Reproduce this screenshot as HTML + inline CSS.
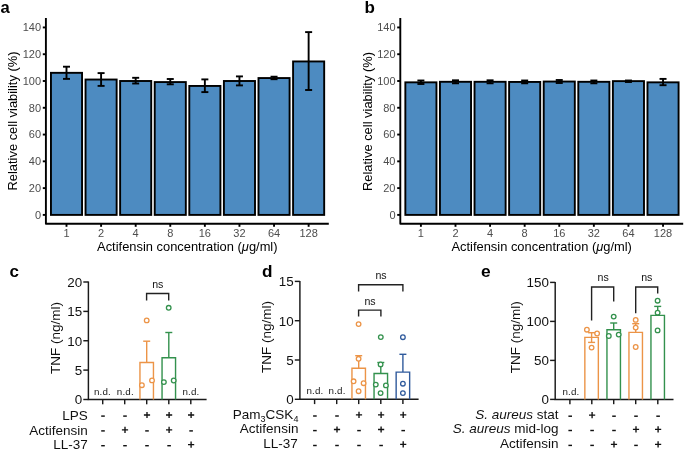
<!DOCTYPE html>
<html><head><meta charset="utf-8"><style>
html,body{margin:0;padding:0;background:#fff;}
svg{display:block;font-family:"Liberation Sans", sans-serif;will-change:transform;}
</style></head><body>
<svg width="685" height="452" viewBox="0 0 685 452">
<rect width="685" height="452" fill="#fff"/>
<rect x="50.95" y="72.83" width="31.10" height="142.07" fill="#4d8bc1" stroke="#000" stroke-width="1.9"/>
<line x1="66.50" y1="66.70" x2="66.50" y2="78.90" stroke="#000" stroke-width="1.9" stroke-linecap="butt"/>
<line x1="63.00" y1="66.70" x2="70.00" y2="66.70" stroke="#000" stroke-width="1.9" stroke-linecap="butt"/>
<line x1="63.00" y1="78.90" x2="70.00" y2="78.90" stroke="#000" stroke-width="1.9" stroke-linecap="butt"/>
<line x1="66.50" y1="223.70" x2="66.50" y2="226.80" stroke="#000" stroke-width="1.9" stroke-linecap="butt"/>
<text x="66.50" y="237.20" font-size="11" fill="#4d4d4d" text-anchor="middle" font-weight="normal" >1</text>
<rect x="85.54" y="79.53" width="31.10" height="135.37" fill="#4d8bc1" stroke="#000" stroke-width="1.9"/>
<line x1="101.09" y1="73.10" x2="101.09" y2="85.90" stroke="#000" stroke-width="1.9" stroke-linecap="butt"/>
<line x1="97.59" y1="73.10" x2="104.59" y2="73.10" stroke="#000" stroke-width="1.9" stroke-linecap="butt"/>
<line x1="97.59" y1="85.90" x2="104.59" y2="85.90" stroke="#000" stroke-width="1.9" stroke-linecap="butt"/>
<line x1="101.09" y1="223.70" x2="101.09" y2="226.80" stroke="#000" stroke-width="1.9" stroke-linecap="butt"/>
<text x="101.09" y="237.20" font-size="11" fill="#4d4d4d" text-anchor="middle" font-weight="normal" >2</text>
<rect x="120.13" y="81.00" width="31.10" height="133.90" fill="#4d8bc1" stroke="#000" stroke-width="1.9"/>
<line x1="135.68" y1="77.80" x2="135.68" y2="83.50" stroke="#000" stroke-width="1.9" stroke-linecap="butt"/>
<line x1="132.18" y1="77.80" x2="139.18" y2="77.80" stroke="#000" stroke-width="1.9" stroke-linecap="butt"/>
<line x1="132.18" y1="83.50" x2="139.18" y2="83.50" stroke="#000" stroke-width="1.9" stroke-linecap="butt"/>
<line x1="135.68" y1="223.70" x2="135.68" y2="226.80" stroke="#000" stroke-width="1.9" stroke-linecap="butt"/>
<text x="135.68" y="237.20" font-size="11" fill="#4d4d4d" text-anchor="middle" font-weight="normal" >4</text>
<rect x="154.72" y="82.07" width="31.10" height="132.83" fill="#4d8bc1" stroke="#000" stroke-width="1.9"/>
<line x1="170.27" y1="79.00" x2="170.27" y2="84.30" stroke="#000" stroke-width="1.9" stroke-linecap="butt"/>
<line x1="166.77" y1="79.00" x2="173.77" y2="79.00" stroke="#000" stroke-width="1.9" stroke-linecap="butt"/>
<line x1="166.77" y1="84.30" x2="173.77" y2="84.30" stroke="#000" stroke-width="1.9" stroke-linecap="butt"/>
<line x1="170.27" y1="223.70" x2="170.27" y2="226.80" stroke="#000" stroke-width="1.9" stroke-linecap="butt"/>
<text x="170.27" y="237.20" font-size="11" fill="#4d4d4d" text-anchor="middle" font-weight="normal" >8</text>
<rect x="189.31" y="85.95" width="31.10" height="128.95" fill="#4d8bc1" stroke="#000" stroke-width="1.9"/>
<line x1="204.86" y1="79.40" x2="204.86" y2="92.10" stroke="#000" stroke-width="1.9" stroke-linecap="butt"/>
<line x1="201.36" y1="79.40" x2="208.36" y2="79.40" stroke="#000" stroke-width="1.9" stroke-linecap="butt"/>
<line x1="201.36" y1="92.10" x2="208.36" y2="92.10" stroke="#000" stroke-width="1.9" stroke-linecap="butt"/>
<line x1="204.86" y1="223.70" x2="204.86" y2="226.80" stroke="#000" stroke-width="1.9" stroke-linecap="butt"/>
<text x="204.86" y="237.20" font-size="11" fill="#4d4d4d" text-anchor="middle" font-weight="normal" >16</text>
<rect x="223.90" y="81.00" width="31.10" height="133.90" fill="#4d8bc1" stroke="#000" stroke-width="1.9"/>
<line x1="239.45" y1="76.40" x2="239.45" y2="85.40" stroke="#000" stroke-width="1.9" stroke-linecap="butt"/>
<line x1="235.95" y1="76.40" x2="242.95" y2="76.40" stroke="#000" stroke-width="1.9" stroke-linecap="butt"/>
<line x1="235.95" y1="85.40" x2="242.95" y2="85.40" stroke="#000" stroke-width="1.9" stroke-linecap="butt"/>
<line x1="239.45" y1="223.70" x2="239.45" y2="226.80" stroke="#000" stroke-width="1.9" stroke-linecap="butt"/>
<text x="239.45" y="237.20" font-size="11" fill="#4d4d4d" text-anchor="middle" font-weight="normal" >32</text>
<rect x="258.49" y="78.05" width="31.10" height="136.85" fill="#4d8bc1" stroke="#000" stroke-width="1.9"/>
<line x1="274.04" y1="76.70" x2="274.04" y2="79.20" stroke="#000" stroke-width="1.9" stroke-linecap="butt"/>
<line x1="270.54" y1="76.70" x2="277.54" y2="76.70" stroke="#000" stroke-width="1.9" stroke-linecap="butt"/>
<line x1="270.54" y1="79.20" x2="277.54" y2="79.20" stroke="#000" stroke-width="1.9" stroke-linecap="butt"/>
<line x1="274.04" y1="223.70" x2="274.04" y2="226.80" stroke="#000" stroke-width="1.9" stroke-linecap="butt"/>
<text x="274.04" y="237.20" font-size="11" fill="#4d4d4d" text-anchor="middle" font-weight="normal" >64</text>
<rect x="293.08" y="61.45" width="31.10" height="153.45" fill="#4d8bc1" stroke="#000" stroke-width="1.9"/>
<line x1="308.63" y1="32.10" x2="308.63" y2="90.00" stroke="#000" stroke-width="1.9" stroke-linecap="butt"/>
<line x1="305.13" y1="32.10" x2="312.13" y2="32.10" stroke="#000" stroke-width="1.9" stroke-linecap="butt"/>
<line x1="305.13" y1="90.00" x2="312.13" y2="90.00" stroke="#000" stroke-width="1.9" stroke-linecap="butt"/>
<line x1="308.63" y1="223.70" x2="308.63" y2="226.80" stroke="#000" stroke-width="1.9" stroke-linecap="butt"/>
<text x="308.63" y="237.20" font-size="11" fill="#4d4d4d" text-anchor="middle" font-weight="normal" >128</text>
<path d="M45.90 18 V223.70 H328.80" fill="none" stroke="#000" stroke-width="1.9" stroke-linejoin="round"/>
<line x1="42.80" y1="214.90" x2="45.90" y2="214.90" stroke="#000" stroke-width="1.9" stroke-linecap="butt"/>
<text x="41.10" y="218.80" font-size="11" fill="#4d4d4d" text-anchor="end" font-weight="normal" >0</text>
<line x1="42.80" y1="188.12" x2="45.90" y2="188.12" stroke="#000" stroke-width="1.9" stroke-linecap="butt"/>
<text x="41.10" y="192.02" font-size="11" fill="#4d4d4d" text-anchor="end" font-weight="normal" >20</text>
<line x1="42.80" y1="161.34" x2="45.90" y2="161.34" stroke="#000" stroke-width="1.9" stroke-linecap="butt"/>
<text x="41.10" y="165.24" font-size="11" fill="#4d4d4d" text-anchor="end" font-weight="normal" >40</text>
<line x1="42.80" y1="134.56" x2="45.90" y2="134.56" stroke="#000" stroke-width="1.9" stroke-linecap="butt"/>
<text x="41.10" y="138.46" font-size="11" fill="#4d4d4d" text-anchor="end" font-weight="normal" >60</text>
<line x1="42.80" y1="107.78" x2="45.90" y2="107.78" stroke="#000" stroke-width="1.9" stroke-linecap="butt"/>
<text x="41.10" y="111.68" font-size="11" fill="#4d4d4d" text-anchor="end" font-weight="normal" >80</text>
<line x1="42.80" y1="81.00" x2="45.90" y2="81.00" stroke="#000" stroke-width="1.9" stroke-linecap="butt"/>
<text x="41.10" y="84.90" font-size="11" fill="#4d4d4d" text-anchor="end" font-weight="normal" >100</text>
<line x1="42.80" y1="54.22" x2="45.90" y2="54.22" stroke="#000" stroke-width="1.9" stroke-linecap="butt"/>
<text x="41.10" y="58.12" font-size="11" fill="#4d4d4d" text-anchor="end" font-weight="normal" >120</text>
<line x1="42.80" y1="27.44" x2="45.90" y2="27.44" stroke="#000" stroke-width="1.9" stroke-linecap="butt"/>
<text x="41.10" y="31.34" font-size="11" fill="#4d4d4d" text-anchor="end" font-weight="normal" >140</text>
<text x="187.30" y="250.80" font-size="12.9" fill="#000" text-anchor="middle" font-weight="normal" >Actifensin concentration (<tspan font-style="italic">μ</tspan>g/ml)</text>
<text x="0.00" y="0.00" font-size="12.9" fill="#000" text-anchor="middle" font-weight="normal" transform="translate(17.00,121) rotate(-90)">Relative cell viability (%)</text>
<rect x="405.35" y="82.34" width="31.10" height="132.56" fill="#4d8bc1" stroke="#000" stroke-width="1.9"/>
<line x1="420.90" y1="80.50" x2="420.90" y2="84.00" stroke="#000" stroke-width="1.9" stroke-linecap="butt"/>
<line x1="417.40" y1="80.50" x2="424.40" y2="80.50" stroke="#000" stroke-width="1.9" stroke-linecap="butt"/>
<line x1="417.40" y1="84.00" x2="424.40" y2="84.00" stroke="#000" stroke-width="1.9" stroke-linecap="butt"/>
<line x1="420.90" y1="223.70" x2="420.90" y2="226.80" stroke="#000" stroke-width="1.9" stroke-linecap="butt"/>
<text x="420.90" y="237.20" font-size="11" fill="#4d4d4d" text-anchor="middle" font-weight="normal" >1</text>
<rect x="439.94" y="81.80" width="31.10" height="133.10" fill="#4d8bc1" stroke="#000" stroke-width="1.9"/>
<line x1="455.49" y1="80.30" x2="455.49" y2="83.30" stroke="#000" stroke-width="1.9" stroke-linecap="butt"/>
<line x1="451.99" y1="80.30" x2="458.99" y2="80.30" stroke="#000" stroke-width="1.9" stroke-linecap="butt"/>
<line x1="451.99" y1="83.30" x2="458.99" y2="83.30" stroke="#000" stroke-width="1.9" stroke-linecap="butt"/>
<line x1="455.49" y1="223.70" x2="455.49" y2="226.80" stroke="#000" stroke-width="1.9" stroke-linecap="butt"/>
<text x="455.49" y="237.20" font-size="11" fill="#4d4d4d" text-anchor="middle" font-weight="normal" >2</text>
<rect x="474.53" y="81.80" width="31.10" height="133.10" fill="#4d8bc1" stroke="#000" stroke-width="1.9"/>
<line x1="490.08" y1="80.30" x2="490.08" y2="83.30" stroke="#000" stroke-width="1.9" stroke-linecap="butt"/>
<line x1="486.58" y1="80.30" x2="493.58" y2="80.30" stroke="#000" stroke-width="1.9" stroke-linecap="butt"/>
<line x1="486.58" y1="83.30" x2="493.58" y2="83.30" stroke="#000" stroke-width="1.9" stroke-linecap="butt"/>
<line x1="490.08" y1="223.70" x2="490.08" y2="226.80" stroke="#000" stroke-width="1.9" stroke-linecap="butt"/>
<text x="490.08" y="237.20" font-size="11" fill="#4d4d4d" text-anchor="middle" font-weight="normal" >4</text>
<rect x="509.12" y="81.94" width="31.10" height="132.96" fill="#4d8bc1" stroke="#000" stroke-width="1.9"/>
<line x1="524.67" y1="80.50" x2="524.67" y2="83.30" stroke="#000" stroke-width="1.9" stroke-linecap="butt"/>
<line x1="521.17" y1="80.50" x2="528.17" y2="80.50" stroke="#000" stroke-width="1.9" stroke-linecap="butt"/>
<line x1="521.17" y1="83.30" x2="528.17" y2="83.30" stroke="#000" stroke-width="1.9" stroke-linecap="butt"/>
<line x1="524.67" y1="223.70" x2="524.67" y2="226.80" stroke="#000" stroke-width="1.9" stroke-linecap="butt"/>
<text x="524.67" y="237.20" font-size="11" fill="#4d4d4d" text-anchor="middle" font-weight="normal" >8</text>
<rect x="543.71" y="81.54" width="31.10" height="133.36" fill="#4d8bc1" stroke="#000" stroke-width="1.9"/>
<line x1="559.26" y1="80.00" x2="559.26" y2="83.00" stroke="#000" stroke-width="1.9" stroke-linecap="butt"/>
<line x1="555.76" y1="80.00" x2="562.76" y2="80.00" stroke="#000" stroke-width="1.9" stroke-linecap="butt"/>
<line x1="555.76" y1="83.00" x2="562.76" y2="83.00" stroke="#000" stroke-width="1.9" stroke-linecap="butt"/>
<line x1="559.26" y1="223.70" x2="559.26" y2="226.80" stroke="#000" stroke-width="1.9" stroke-linecap="butt"/>
<text x="559.26" y="237.20" font-size="11" fill="#4d4d4d" text-anchor="middle" font-weight="normal" >16</text>
<rect x="578.30" y="81.80" width="31.10" height="133.10" fill="#4d8bc1" stroke="#000" stroke-width="1.9"/>
<line x1="593.85" y1="80.50" x2="593.85" y2="83.30" stroke="#000" stroke-width="1.9" stroke-linecap="butt"/>
<line x1="590.35" y1="80.50" x2="597.35" y2="80.50" stroke="#000" stroke-width="1.9" stroke-linecap="butt"/>
<line x1="590.35" y1="83.30" x2="597.35" y2="83.30" stroke="#000" stroke-width="1.9" stroke-linecap="butt"/>
<line x1="593.85" y1="223.70" x2="593.85" y2="226.80" stroke="#000" stroke-width="1.9" stroke-linecap="butt"/>
<text x="593.85" y="237.20" font-size="11" fill="#4d4d4d" text-anchor="middle" font-weight="normal" >32</text>
<rect x="612.89" y="81.13" width="31.10" height="133.77" fill="#4d8bc1" stroke="#000" stroke-width="1.9"/>
<line x1="628.44" y1="80.50" x2="628.44" y2="82.00" stroke="#000" stroke-width="1.9" stroke-linecap="butt"/>
<line x1="624.94" y1="80.50" x2="631.94" y2="80.50" stroke="#000" stroke-width="1.9" stroke-linecap="butt"/>
<line x1="624.94" y1="82.00" x2="631.94" y2="82.00" stroke="#000" stroke-width="1.9" stroke-linecap="butt"/>
<line x1="628.44" y1="223.70" x2="628.44" y2="226.80" stroke="#000" stroke-width="1.9" stroke-linecap="butt"/>
<text x="628.44" y="237.20" font-size="11" fill="#4d4d4d" text-anchor="middle" font-weight="normal" >64</text>
<rect x="647.48" y="82.34" width="31.10" height="132.56" fill="#4d8bc1" stroke="#000" stroke-width="1.9"/>
<line x1="663.03" y1="78.90" x2="663.03" y2="85.20" stroke="#000" stroke-width="1.9" stroke-linecap="butt"/>
<line x1="659.53" y1="78.90" x2="666.53" y2="78.90" stroke="#000" stroke-width="1.9" stroke-linecap="butt"/>
<line x1="659.53" y1="85.20" x2="666.53" y2="85.20" stroke="#000" stroke-width="1.9" stroke-linecap="butt"/>
<line x1="663.03" y1="223.70" x2="663.03" y2="226.80" stroke="#000" stroke-width="1.9" stroke-linecap="butt"/>
<text x="663.03" y="237.20" font-size="11" fill="#4d4d4d" text-anchor="middle" font-weight="normal" >128</text>
<path d="M400.30 18 V223.70 H683.20" fill="none" stroke="#000" stroke-width="1.9" stroke-linejoin="round"/>
<line x1="397.20" y1="214.90" x2="400.30" y2="214.90" stroke="#000" stroke-width="1.9" stroke-linecap="butt"/>
<text x="395.50" y="218.80" font-size="11" fill="#4d4d4d" text-anchor="end" font-weight="normal" >0</text>
<line x1="397.20" y1="188.12" x2="400.30" y2="188.12" stroke="#000" stroke-width="1.9" stroke-linecap="butt"/>
<text x="395.50" y="192.02" font-size="11" fill="#4d4d4d" text-anchor="end" font-weight="normal" >20</text>
<line x1="397.20" y1="161.34" x2="400.30" y2="161.34" stroke="#000" stroke-width="1.9" stroke-linecap="butt"/>
<text x="395.50" y="165.24" font-size="11" fill="#4d4d4d" text-anchor="end" font-weight="normal" >40</text>
<line x1="397.20" y1="134.56" x2="400.30" y2="134.56" stroke="#000" stroke-width="1.9" stroke-linecap="butt"/>
<text x="395.50" y="138.46" font-size="11" fill="#4d4d4d" text-anchor="end" font-weight="normal" >60</text>
<line x1="397.20" y1="107.78" x2="400.30" y2="107.78" stroke="#000" stroke-width="1.9" stroke-linecap="butt"/>
<text x="395.50" y="111.68" font-size="11" fill="#4d4d4d" text-anchor="end" font-weight="normal" >80</text>
<line x1="397.20" y1="81.00" x2="400.30" y2="81.00" stroke="#000" stroke-width="1.9" stroke-linecap="butt"/>
<text x="395.50" y="84.90" font-size="11" fill="#4d4d4d" text-anchor="end" font-weight="normal" >100</text>
<line x1="397.20" y1="54.22" x2="400.30" y2="54.22" stroke="#000" stroke-width="1.9" stroke-linecap="butt"/>
<text x="395.50" y="58.12" font-size="11" fill="#4d4d4d" text-anchor="end" font-weight="normal" >120</text>
<line x1="397.20" y1="27.44" x2="400.30" y2="27.44" stroke="#000" stroke-width="1.9" stroke-linecap="butt"/>
<text x="395.50" y="31.34" font-size="11" fill="#4d4d4d" text-anchor="end" font-weight="normal" >140</text>
<text x="541.70" y="250.80" font-size="12.9" fill="#000" text-anchor="middle" font-weight="normal" >Actifensin concentration (<tspan font-style="italic">μ</tspan>g/ml)</text>
<text x="0.00" y="0.00" font-size="12.9" fill="#000" text-anchor="middle" font-weight="normal" transform="translate(372.30,121.5) rotate(-90)">Relative cell viability (%)</text>
<text x="0.40" y="12.70" font-size="16.6" fill="#000" text-anchor="start" font-weight="bold" >a</text>
<text x="364.40" y="12.60" font-size="17" fill="#000" text-anchor="start" font-weight="bold" >b</text>
<path d="M88.40 281.60 V399.50 H206.60" fill="none" stroke="#1a1a1a" stroke-width="1.45"/>
<line x1="83.30" y1="282.00" x2="88.40" y2="282.00" stroke="#1a1a1a" stroke-width="1.45" stroke-linecap="butt"/>
<text x="82.10" y="286.80" font-size="13.4" fill="#111" text-anchor="end" font-weight="normal" >20</text>
<line x1="83.30" y1="311.40" x2="88.40" y2="311.40" stroke="#1a1a1a" stroke-width="1.45" stroke-linecap="butt"/>
<text x="82.10" y="316.20" font-size="13.4" fill="#111" text-anchor="end" font-weight="normal" >15</text>
<line x1="83.30" y1="340.75" x2="88.40" y2="340.75" stroke="#1a1a1a" stroke-width="1.45" stroke-linecap="butt"/>
<text x="82.10" y="345.55" font-size="13.4" fill="#111" text-anchor="end" font-weight="normal" >10</text>
<line x1="83.30" y1="370.10" x2="88.40" y2="370.10" stroke="#1a1a1a" stroke-width="1.45" stroke-linecap="butt"/>
<text x="82.10" y="374.90" font-size="13.4" fill="#111" text-anchor="end" font-weight="normal" >5</text>
<line x1="83.30" y1="399.50" x2="88.40" y2="399.50" stroke="#1a1a1a" stroke-width="1.45" stroke-linecap="butt"/>
<text x="82.10" y="404.30" font-size="13.4" fill="#111" text-anchor="end" font-weight="normal" >0</text>
<line x1="102.70" y1="399.50" x2="102.70" y2="404.30" stroke="#1a1a1a" stroke-width="1.45" stroke-linecap="butt"/>
<line x1="124.70" y1="399.50" x2="124.70" y2="404.30" stroke="#1a1a1a" stroke-width="1.45" stroke-linecap="butt"/>
<line x1="146.70" y1="399.50" x2="146.70" y2="404.30" stroke="#1a1a1a" stroke-width="1.45" stroke-linecap="butt"/>
<line x1="168.80" y1="399.50" x2="168.80" y2="404.30" stroke="#1a1a1a" stroke-width="1.45" stroke-linecap="butt"/>
<line x1="190.80" y1="399.50" x2="190.80" y2="404.30" stroke="#1a1a1a" stroke-width="1.45" stroke-linecap="butt"/>
<text x="102.40" y="395.00" font-size="9.8" fill="#1a1a1a" text-anchor="middle" font-weight="normal" letter-spacing="0.15">n.d.</text>
<text x="125.30" y="395.00" font-size="9.8" fill="#1a1a1a" text-anchor="middle" font-weight="normal" letter-spacing="0.15">n.d.</text>
<text x="190.90" y="395.00" font-size="9.8" fill="#1a1a1a" text-anchor="middle" font-weight="normal" letter-spacing="0.15">n.d.</text>
<path d="M139.95 399.50 V362.50 H153.45 V399.50" fill="none" stroke="#ec9447" stroke-width="1.4"/>
<line x1="146.70" y1="362.50" x2="146.70" y2="341.20" stroke="#ec9447" stroke-width="1.4" stroke-linecap="butt"/>
<line x1="143.20" y1="341.20" x2="150.20" y2="341.20" stroke="#ec9447" stroke-width="1.4" stroke-linecap="butt"/>
<circle cx="146.70" cy="320.40" r="2.3" fill="#fff" stroke="#ec9447" stroke-width="1.3"/>
<circle cx="141.90" cy="385.20" r="2.3" fill="#fff" stroke="#ec9447" stroke-width="1.3"/>
<circle cx="152.00" cy="380.40" r="2.3" fill="#fff" stroke="#ec9447" stroke-width="1.3"/>
<path d="M162.05 399.50 V357.70 H175.55 V399.50" fill="none" stroke="#33914d" stroke-width="1.4"/>
<line x1="168.80" y1="357.70" x2="168.80" y2="332.50" stroke="#33914d" stroke-width="1.4" stroke-linecap="butt"/>
<line x1="165.30" y1="332.50" x2="172.30" y2="332.50" stroke="#33914d" stroke-width="1.4" stroke-linecap="butt"/>
<circle cx="168.70" cy="307.80" r="2.3" fill="#fff" stroke="#33914d" stroke-width="1.3"/>
<circle cx="163.90" cy="382.10" r="2.3" fill="#fff" stroke="#33914d" stroke-width="1.3"/>
<circle cx="173.70" cy="380.50" r="2.3" fill="#fff" stroke="#33914d" stroke-width="1.3"/>
<path d="M146.60 300.40 V293.50 H168.70 V300.40" fill="none" stroke="#222" stroke-width="1.4"/>
<text x="157.80" y="287.80" font-size="10.6" fill="#111" text-anchor="middle" font-weight="normal" >ns</text>
<text x="0.00" y="0.00" font-size="13.5" fill="#111" text-anchor="middle" font-weight="normal" transform="translate(60.2,338) rotate(-90)">TNF (ng/ml)</text>
<text x="9.50" y="277.40" font-size="17" fill="#000" text-anchor="start" font-weight="bold" >c</text>
<text x="87.80" y="419.90" font-size="13.5" fill="#111" text-anchor="end" font-weight="normal" >LPS</text>
<text x="87.80" y="434.50" font-size="13.5" fill="#111" text-anchor="end" font-weight="normal" >Actifensin</text>
<text x="87.80" y="449.40" font-size="13.5" fill="#111" text-anchor="end" font-weight="normal" >LL-37</text>
<path d="M101.20 416.10 H104.80" stroke="#111" stroke-width="1.45" fill="none"/>
<path d="M123.20 416.10 H126.80" stroke="#111" stroke-width="1.45" fill="none"/>
<path d="M143.90 415.00 H150.10 M147.00 411.90 V418.10" stroke="#111" stroke-width="1.35" fill="none"/>
<path d="M166.00 415.00 H172.20 M169.10 411.90 V418.10" stroke="#111" stroke-width="1.35" fill="none"/>
<path d="M188.00 415.00 H194.20 M191.10 411.90 V418.10" stroke="#111" stroke-width="1.35" fill="none"/>
<path d="M101.20 430.90 H104.80" stroke="#111" stroke-width="1.45" fill="none"/>
<path d="M121.90 429.80 H128.10 M125.00 426.70 V432.90" stroke="#111" stroke-width="1.35" fill="none"/>
<path d="M145.20 430.90 H148.80" stroke="#111" stroke-width="1.45" fill="none"/>
<path d="M166.00 429.80 H172.20 M169.10 426.70 V432.90" stroke="#111" stroke-width="1.35" fill="none"/>
<path d="M189.30 430.90 H192.90" stroke="#111" stroke-width="1.45" fill="none"/>
<path d="M101.20 445.70 H104.80" stroke="#111" stroke-width="1.45" fill="none"/>
<path d="M123.20 445.70 H126.80" stroke="#111" stroke-width="1.45" fill="none"/>
<path d="M145.20 445.70 H148.80" stroke="#111" stroke-width="1.45" fill="none"/>
<path d="M167.30 445.70 H170.90" stroke="#111" stroke-width="1.45" fill="none"/>
<path d="M188.00 444.60 H194.20 M191.10 441.50 V447.70" stroke="#111" stroke-width="1.35" fill="none"/>
<path d="M299.90 281.00 V399.30 H418.60" fill="none" stroke="#1a1a1a" stroke-width="1.45"/>
<line x1="294.80" y1="281.40" x2="299.90" y2="281.40" stroke="#1a1a1a" stroke-width="1.45" stroke-linecap="butt"/>
<text x="293.60" y="286.20" font-size="13.4" fill="#111" text-anchor="end" font-weight="normal" >15</text>
<line x1="294.80" y1="320.70" x2="299.90" y2="320.70" stroke="#1a1a1a" stroke-width="1.45" stroke-linecap="butt"/>
<text x="293.60" y="325.50" font-size="13.4" fill="#111" text-anchor="end" font-weight="normal" >10</text>
<line x1="294.80" y1="360.00" x2="299.90" y2="360.00" stroke="#1a1a1a" stroke-width="1.45" stroke-linecap="butt"/>
<text x="293.60" y="364.80" font-size="13.4" fill="#111" text-anchor="end" font-weight="normal" >5</text>
<line x1="294.80" y1="399.30" x2="299.90" y2="399.30" stroke="#1a1a1a" stroke-width="1.45" stroke-linecap="butt"/>
<text x="293.60" y="404.10" font-size="13.4" fill="#111" text-anchor="end" font-weight="normal" >0</text>
<line x1="314.60" y1="399.30" x2="314.60" y2="404.10" stroke="#1a1a1a" stroke-width="1.45" stroke-linecap="butt"/>
<line x1="336.70" y1="399.30" x2="336.70" y2="404.10" stroke="#1a1a1a" stroke-width="1.45" stroke-linecap="butt"/>
<line x1="358.70" y1="399.30" x2="358.70" y2="404.10" stroke="#1a1a1a" stroke-width="1.45" stroke-linecap="butt"/>
<line x1="380.80" y1="399.30" x2="380.80" y2="404.10" stroke="#1a1a1a" stroke-width="1.45" stroke-linecap="butt"/>
<line x1="402.90" y1="399.30" x2="402.90" y2="404.10" stroke="#1a1a1a" stroke-width="1.45" stroke-linecap="butt"/>
<text x="315.00" y="394.20" font-size="9.8" fill="#1a1a1a" text-anchor="middle" font-weight="normal" letter-spacing="0.15">n.d.</text>
<text x="337.10" y="394.20" font-size="9.8" fill="#1a1a1a" text-anchor="middle" font-weight="normal" letter-spacing="0.15">n.d.</text>
<path d="M351.95 399.30 V368.30 H365.45 V399.30" fill="none" stroke="#ec9447" stroke-width="1.4"/>
<line x1="358.70" y1="368.30" x2="358.70" y2="355.70" stroke="#ec9447" stroke-width="1.4" stroke-linecap="butt"/>
<line x1="355.20" y1="355.70" x2="362.20" y2="355.70" stroke="#ec9447" stroke-width="1.4" stroke-linecap="butt"/>
<circle cx="358.60" cy="324.10" r="2.3" fill="#fff" stroke="#ec9447" stroke-width="1.3"/>
<circle cx="358.60" cy="358.80" r="2.3" fill="#fff" stroke="#ec9447" stroke-width="1.3"/>
<circle cx="353.60" cy="381.30" r="2.3" fill="#fff" stroke="#ec9447" stroke-width="1.3"/>
<circle cx="363.60" cy="383.20" r="2.3" fill="#fff" stroke="#ec9447" stroke-width="1.3"/>
<circle cx="358.60" cy="391.20" r="2.3" fill="#fff" stroke="#ec9447" stroke-width="1.3"/>
<path d="M374.05 399.30 V373.50 H387.55 V399.30" fill="none" stroke="#33914d" stroke-width="1.4"/>
<line x1="380.80" y1="373.50" x2="380.80" y2="362.50" stroke="#33914d" stroke-width="1.4" stroke-linecap="butt"/>
<line x1="377.30" y1="362.50" x2="384.30" y2="362.50" stroke="#33914d" stroke-width="1.4" stroke-linecap="butt"/>
<circle cx="380.80" cy="337.10" r="2.3" fill="#fff" stroke="#33914d" stroke-width="1.3"/>
<circle cx="380.60" cy="364.40" r="2.3" fill="#fff" stroke="#33914d" stroke-width="1.3"/>
<circle cx="375.80" cy="384.60" r="2.3" fill="#fff" stroke="#33914d" stroke-width="1.3"/>
<circle cx="385.90" cy="385.40" r="2.3" fill="#fff" stroke="#33914d" stroke-width="1.3"/>
<circle cx="380.60" cy="393.10" r="2.3" fill="#fff" stroke="#33914d" stroke-width="1.3"/>
<path d="M396.15 399.30 V372.10 H409.65 V399.30" fill="none" stroke="#2f5a9c" stroke-width="1.4"/>
<line x1="402.90" y1="372.10" x2="402.90" y2="354.30" stroke="#2f5a9c" stroke-width="1.4" stroke-linecap="butt"/>
<line x1="399.40" y1="354.30" x2="406.40" y2="354.30" stroke="#2f5a9c" stroke-width="1.4" stroke-linecap="butt"/>
<circle cx="402.90" cy="337.20" r="2.3" fill="#fff" stroke="#2f5a9c" stroke-width="1.3"/>
<circle cx="402.90" cy="383.70" r="2.3" fill="#fff" stroke="#2f5a9c" stroke-width="1.3"/>
<circle cx="402.90" cy="393.10" r="2.3" fill="#fff" stroke="#2f5a9c" stroke-width="1.3"/>
<path d="M358.60 291.50 V284.80 H402.90 V291.50" fill="none" stroke="#222" stroke-width="1.4"/>
<text x="381.00" y="279.00" font-size="10.6" fill="#111" text-anchor="middle" font-weight="normal" >ns</text>
<path d="M358.60 316.60 V310.10 H380.90 V316.60" fill="none" stroke="#222" stroke-width="1.4"/>
<text x="370.00" y="304.60" font-size="10.6" fill="#111" text-anchor="middle" font-weight="normal" >ns</text>
<text x="0.00" y="0.00" font-size="13.5" fill="#111" text-anchor="middle" font-weight="normal" transform="translate(271,337) rotate(-90)">TNF (ng/ml)</text>
<text x="261.90" y="277.20" font-size="17.2" fill="#000" text-anchor="start" font-weight="bold" >d</text>
<text x="298.40" y="418.60" font-size="13.5" fill="#111" text-anchor="end" font-weight="normal" >Pam<tspan font-size="9" dy="3">3</tspan><tspan dy="-3">CSK</tspan><tspan font-size="9" dy="3">4</tspan></text>
<text x="298.40" y="433.20" font-size="13.5" fill="#111" text-anchor="end" font-weight="normal" >Actifensin</text>
<text x="297.80" y="447.80" font-size="13.5" fill="#111" text-anchor="end" font-weight="normal" >LL-37</text>
<path d="M313.10 416.00 H316.70" stroke="#111" stroke-width="1.45" fill="none"/>
<path d="M335.20 416.00 H338.80" stroke="#111" stroke-width="1.45" fill="none"/>
<path d="M355.90 414.90 H362.10 M359.00 411.80 V418.00" stroke="#111" stroke-width="1.35" fill="none"/>
<path d="M378.00 414.90 H384.20 M381.10 411.80 V418.00" stroke="#111" stroke-width="1.35" fill="none"/>
<path d="M400.10 414.90 H406.30 M403.20 411.80 V418.00" stroke="#111" stroke-width="1.35" fill="none"/>
<path d="M313.10 430.60 H316.70" stroke="#111" stroke-width="1.45" fill="none"/>
<path d="M333.90 429.50 H340.10 M337.00 426.40 V432.60" stroke="#111" stroke-width="1.35" fill="none"/>
<path d="M357.20 430.60 H360.80" stroke="#111" stroke-width="1.45" fill="none"/>
<path d="M378.00 429.50 H384.20 M381.10 426.40 V432.60" stroke="#111" stroke-width="1.35" fill="none"/>
<path d="M401.40 430.60 H405.00" stroke="#111" stroke-width="1.45" fill="none"/>
<path d="M313.10 445.50 H316.70" stroke="#111" stroke-width="1.45" fill="none"/>
<path d="M335.20 445.50 H338.80" stroke="#111" stroke-width="1.45" fill="none"/>
<path d="M357.20 445.50 H360.80" stroke="#111" stroke-width="1.45" fill="none"/>
<path d="M379.30 445.50 H382.90" stroke="#111" stroke-width="1.45" fill="none"/>
<path d="M400.10 444.40 H406.30 M403.20 441.30 V447.50" stroke="#111" stroke-width="1.35" fill="none"/>
<path d="M555.20 282.00 V399.40 H673.50" fill="none" stroke="#1a1a1a" stroke-width="1.45"/>
<line x1="550.10" y1="282.40" x2="555.20" y2="282.40" stroke="#1a1a1a" stroke-width="1.45" stroke-linecap="butt"/>
<text x="548.90" y="287.20" font-size="13.4" fill="#111" text-anchor="end" font-weight="normal" >150</text>
<line x1="550.10" y1="321.40" x2="555.20" y2="321.40" stroke="#1a1a1a" stroke-width="1.45" stroke-linecap="butt"/>
<text x="548.90" y="326.20" font-size="13.4" fill="#111" text-anchor="end" font-weight="normal" >100</text>
<line x1="550.10" y1="360.40" x2="555.20" y2="360.40" stroke="#1a1a1a" stroke-width="1.45" stroke-linecap="butt"/>
<text x="548.90" y="365.20" font-size="13.4" fill="#111" text-anchor="end" font-weight="normal" >50</text>
<line x1="550.10" y1="399.40" x2="555.20" y2="399.40" stroke="#1a1a1a" stroke-width="1.45" stroke-linecap="butt"/>
<text x="548.90" y="404.20" font-size="13.4" fill="#111" text-anchor="end" font-weight="normal" >0</text>
<line x1="569.90" y1="399.40" x2="569.90" y2="404.20" stroke="#1a1a1a" stroke-width="1.45" stroke-linecap="butt"/>
<line x1="591.80" y1="399.40" x2="591.80" y2="404.20" stroke="#1a1a1a" stroke-width="1.45" stroke-linecap="butt"/>
<line x1="613.70" y1="399.40" x2="613.70" y2="404.20" stroke="#1a1a1a" stroke-width="1.45" stroke-linecap="butt"/>
<line x1="635.70" y1="399.40" x2="635.70" y2="404.20" stroke="#1a1a1a" stroke-width="1.45" stroke-linecap="butt"/>
<line x1="657.80" y1="399.40" x2="657.80" y2="404.20" stroke="#1a1a1a" stroke-width="1.45" stroke-linecap="butt"/>
<text x="570.90" y="395.00" font-size="9.8" fill="#1a1a1a" text-anchor="middle" font-weight="normal" letter-spacing="0.15">n.d.</text>
<path d="M584.85 399.40 V337.40 H598.35 V399.40" fill="none" stroke="#ec9447" stroke-width="1.4"/>
<line x1="591.60" y1="337.40" x2="591.60" y2="332.70" stroke="#ec9447" stroke-width="1.4" stroke-linecap="butt"/>
<line x1="588.10" y1="332.70" x2="595.10" y2="332.70" stroke="#ec9447" stroke-width="1.4" stroke-linecap="butt"/>
<line x1="591.60" y1="337.40" x2="591.60" y2="342.40" stroke="#ec9447" stroke-width="1.4" stroke-linecap="butt"/>
<line x1="588.10" y1="342.40" x2="595.10" y2="342.40" stroke="#ec9447" stroke-width="1.4" stroke-linecap="butt"/>
<circle cx="586.90" cy="329.70" r="2.3" fill="#fff" stroke="#ec9447" stroke-width="1.3"/>
<circle cx="597.10" cy="333.50" r="2.3" fill="#fff" stroke="#ec9447" stroke-width="1.3"/>
<circle cx="591.60" cy="347.60" r="2.3" fill="#fff" stroke="#ec9447" stroke-width="1.3"/>
<path d="M606.95 399.40 V329.70 H620.45 V399.40" fill="none" stroke="#33914d" stroke-width="1.4"/>
<line x1="613.70" y1="329.70" x2="613.70" y2="323.00" stroke="#33914d" stroke-width="1.4" stroke-linecap="butt"/>
<line x1="610.20" y1="323.00" x2="617.20" y2="323.00" stroke="#33914d" stroke-width="1.4" stroke-linecap="butt"/>
<circle cx="613.70" cy="316.60" r="2.3" fill="#fff" stroke="#33914d" stroke-width="1.3"/>
<circle cx="608.80" cy="336.00" r="2.3" fill="#fff" stroke="#33914d" stroke-width="1.3"/>
<circle cx="618.70" cy="334.60" r="2.3" fill="#fff" stroke="#33914d" stroke-width="1.3"/>
<path d="M628.95 399.40 V332.40 H642.45 V399.40" fill="none" stroke="#ec9447" stroke-width="1.4"/>
<line x1="635.70" y1="332.40" x2="635.70" y2="323.70" stroke="#ec9447" stroke-width="1.4" stroke-linecap="butt"/>
<line x1="632.20" y1="323.70" x2="639.20" y2="323.70" stroke="#ec9447" stroke-width="1.4" stroke-linecap="butt"/>
<circle cx="635.70" cy="319.90" r="2.3" fill="#fff" stroke="#ec9447" stroke-width="1.3"/>
<circle cx="635.70" cy="327.60" r="2.3" fill="#fff" stroke="#ec9447" stroke-width="1.3"/>
<circle cx="635.70" cy="347.00" r="2.3" fill="#fff" stroke="#ec9447" stroke-width="1.3"/>
<path d="M650.95 399.40 V315.40 H664.45 V399.40" fill="none" stroke="#33914d" stroke-width="1.4"/>
<line x1="657.70" y1="315.40" x2="657.70" y2="306.40" stroke="#33914d" stroke-width="1.4" stroke-linecap="butt"/>
<line x1="654.20" y1="306.40" x2="661.20" y2="306.40" stroke="#33914d" stroke-width="1.4" stroke-linecap="butt"/>
<circle cx="657.60" cy="300.70" r="2.3" fill="#fff" stroke="#33914d" stroke-width="1.3"/>
<circle cx="657.60" cy="312.70" r="2.3" fill="#fff" stroke="#33914d" stroke-width="1.3"/>
<circle cx="657.60" cy="330.40" r="2.3" fill="#fff" stroke="#33914d" stroke-width="1.3"/>
<path d="M591.60 320.40 V287.00 H613.70 V301.60" fill="none" stroke="#222" stroke-width="1.4"/>
<text x="603.20" y="280.80" font-size="10.6" fill="#111" text-anchor="middle" font-weight="normal" >ns</text>
<path d="M635.70 313.20 V287.00 H657.70 V293.40" fill="none" stroke="#222" stroke-width="1.4"/>
<text x="646.80" y="280.80" font-size="10.6" fill="#111" text-anchor="middle" font-weight="normal" >ns</text>
<text x="0.00" y="0.00" font-size="13.5" fill="#111" text-anchor="middle" font-weight="normal" transform="translate(520.3,337.3) rotate(-90)">TNF (ng/ml)</text>
<text x="481.10" y="277.30" font-size="17.4" fill="#000" text-anchor="start" font-weight="bold" >e</text>
<text x="558.60" y="418.70" font-size="13.5" fill="#111" text-anchor="end" font-weight="normal" ><tspan font-style="italic">S. aureus</tspan> stat</text>
<text x="558.60" y="433.20" font-size="13.5" fill="#111" text-anchor="end" font-weight="normal" ><tspan font-style="italic">S. aureus</tspan> mid-log</text>
<text x="558.60" y="448.40" font-size="13.5" fill="#111" text-anchor="end" font-weight="normal" >Actifensin</text>
<path d="M568.40 416.20 H572.00" stroke="#111" stroke-width="1.45" fill="none"/>
<path d="M589.00 415.10 H595.20 M592.10 412.00 V418.20" stroke="#111" stroke-width="1.35" fill="none"/>
<path d="M612.20 416.20 H615.80" stroke="#111" stroke-width="1.45" fill="none"/>
<path d="M634.20 416.20 H637.80" stroke="#111" stroke-width="1.45" fill="none"/>
<path d="M656.30 416.20 H659.90" stroke="#111" stroke-width="1.45" fill="none"/>
<path d="M568.40 430.50 H572.00" stroke="#111" stroke-width="1.45" fill="none"/>
<path d="M590.30 430.50 H593.90" stroke="#111" stroke-width="1.45" fill="none"/>
<path d="M612.20 430.50 H615.80" stroke="#111" stroke-width="1.45" fill="none"/>
<path d="M632.90 429.40 H639.10 M636.00 426.30 V432.50" stroke="#111" stroke-width="1.35" fill="none"/>
<path d="M655.00 429.40 H661.20 M658.10 426.30 V432.50" stroke="#111" stroke-width="1.35" fill="none"/>
<path d="M568.40 445.40 H572.00" stroke="#111" stroke-width="1.45" fill="none"/>
<path d="M590.30 445.40 H593.90" stroke="#111" stroke-width="1.45" fill="none"/>
<path d="M610.90 444.30 H617.10 M614.00 441.20 V447.40" stroke="#111" stroke-width="1.35" fill="none"/>
<path d="M634.20 445.40 H637.80" stroke="#111" stroke-width="1.45" fill="none"/>
<path d="M655.00 444.30 H661.20 M658.10 441.20 V447.40" stroke="#111" stroke-width="1.35" fill="none"/>
</svg>
</body></html>
